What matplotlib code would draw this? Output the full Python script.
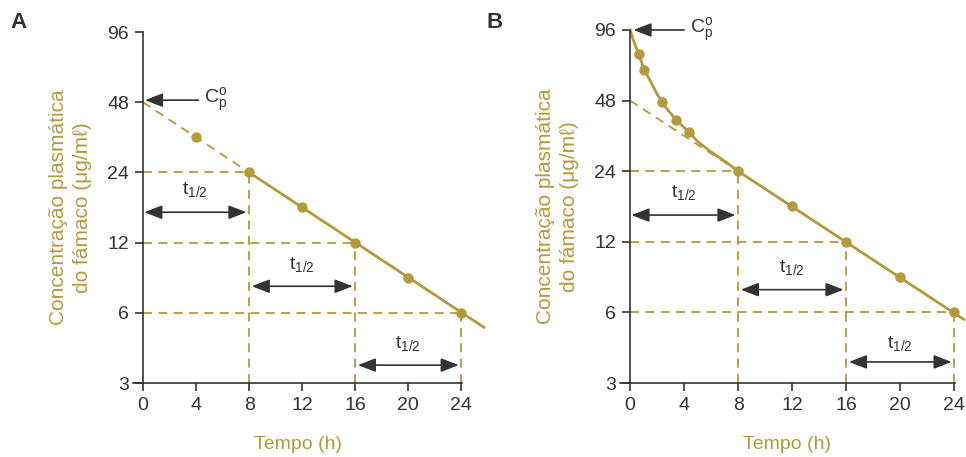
import matplotlib
matplotlib.use('Agg')
import matplotlib.pyplot as plt
from matplotlib.ticker import FixedLocator, NullLocator

plt.rcParams['font.family'] = ['Liberation Sans', 'DejaVu Sans']

GOLD = '#b39a3c'
DARK = '#333333'

# tick values
x_ticks = [0, 4, 8, 12, 16, 20, 24]
y_ticks = [3, 6, 12, 24, 48, 96]

# panel A: measured points and fitted line
a_t = [4, 8, 12, 16, 20, 24]
a_c = [34, 24, 17, 12, 8.5, 6]
a_line_t = [8, 25.7]
a_line_c = [24, 5.2]

b_t = [0.66, 1.03, 2.36, 3.4, 4.36, 8, 12, 16, 20, 24]
b_c = [76, 65, 47.5, 39.8, 35.3, 24, 17, 12, 8.5, 6]
b_curve_t = [0, 0.2, 0.4, 0.66, 0.85, 1.03, 1.3, 1.6, 2.0, 2.36, 2.8, 3.4,
             3.9, 4.36, 5, 6, 7, 8, 24.7]
b_curve_c = [96, 88.5, 82, 75.5, 70, 65, 61, 56.7, 51.1, 47.5, 43.7, 39.8,
             37.3, 35.3, 32.1, 29, 26.5, 24, 5.6]

# back extrapolation to C0 and half-life guides (shared)
extrap_t = [0, 8]
extrap_c = [48, 24]
half_levels = [24, 12, 6]
half_times = [8, 16, 24]
arrow_spans = [(0.1, 7.8), (8.2, 15.8), (16.2, 23.8)]
a_arrow_y = [16.2, 7.8, 3.58]
a_label_y = [20.2, 9.7, 4.45]
b_arrow_y = [15.6, 7.5, 3.69]
b_label_y = [19.5, 9.3, 4.4]

fig = plt.figure(figsize=(9.66, 4.57), dpi=100)
axA = fig.add_axes([0.1377, 0.1619, 0.3406, 0.768])
axB = fig.add_axes([0.6418, 0.1619, 0.3468, 0.7725])


def setup(ax):
    ax.set_yscale('log', base=2)
    ax.set_xlim(-0.75, 24.05)
    ax.set_ylim(3, 96)
    ax.spines['top'].set_visible(False)
    ax.spines['right'].set_visible(False)
    ax.spines['left'].set_position(('data', 0))
    for s in ('left', 'bottom'):
        ax.spines[s].set_color(DARK)
        ax.spines[s].set_linewidth(1.2)
    ax.yaxis.set_major_locator(FixedLocator(y_ticks))
    ax.yaxis.set_minor_locator(NullLocator())
    ax.set_yticklabels([str(v) for v in y_ticks])
    ax.set_xticks(x_ticks)
    ax.tick_params(direction='out', length=6, width=1.2, colors=DARK,
                   labelsize=14, pad=4)
    ax.set_xlabel('Tempo (h)', color=GOLD, fontsize=14, labelpad=16)
    ax.set_ylabel('Concentração plasmática\ndo fámaco (μg/mℓ)', color=GOLD,
                  fontsize=15, linespacing=1.35, labelpad=11)
    ax.patch.set_visible(False)


def guides(ax, arrow_y, label_y):
    dash = dict(color=GOLD, lw=1.3, ls=(0, (5, 3.5)))
    ax.plot(extrap_t, extrap_c, **dash)
    for lev, t in zip(half_levels, half_times):
        ax.plot([0, t], [lev, lev], **dash)
        ax.plot([t, t], [3, lev], **dash)
    for (x0, x1), ya, yl in zip(arrow_spans, arrow_y, label_y):
        ax.annotate('', xy=(x1, ya), xytext=(x0, ya),
                    arrowprops=dict(arrowstyle='<|-|>,head_length=0.9,head_width=0.35',
                                    mutation_scale=12, color=DARK, lw=1.2,
                                    shrinkA=0, shrinkB=0))
        ax.text((x0 + x1) / 2, yl, r'$\mathregular{t_{1/2}}$', ha='center',
                va='center', fontsize=14, color=DARK)


setup(axA)
guides(axA, a_arrow_y, a_label_y)
axA.plot(a_line_t, a_line_c, color=GOLD, lw=2, clip_on=False)
axA.plot(a_t, a_c, 'o', color=GOLD, ms=6.5, clip_on=False)
axA.annotate(r'$\mathregular{C_p^o}$', xy=(0.15, 49), xytext=(4.6, 49),
             fontsize=14, color=DARK, va='center',
             arrowprops=dict(arrowstyle='-|>,head_length=0.9,head_width=0.35',
                             mutation_scale=12, color=DARK, lw=1.2,
                             shrinkA=2, shrinkB=0))

setup(axB)
guides(axB, b_arrow_y, b_label_y)
axB.plot(b_curve_t, b_curve_c, color=GOLD, lw=2, clip_on=False)
axB.plot(b_t, b_c, 'o', color=GOLD, ms=6.5, clip_on=False)
axB.annotate(r'$\mathregular{C_p^o}$', xy=(0.25, 96), xytext=(4.4, 96),
             fontsize=14, color=DARK, va='center', annotation_clip=False,
             arrowprops=dict(arrowstyle='-|>,head_length=0.9,head_width=0.35',
                             mutation_scale=12, color=DARK, lw=1.2,
                             shrinkA=2, shrinkB=0))

fig.text(10 / 966, 1 - 22 / 457, 'A', fontsize=16, fontweight='bold',
         color=DARK, va='center', ha='left')
fig.text(487 / 966, 1 - 22 / 457, 'B', fontsize=16, fontweight='bold',
         color=DARK, va='center', ha='left')

fig.savefig('out.png', dpi=100)
